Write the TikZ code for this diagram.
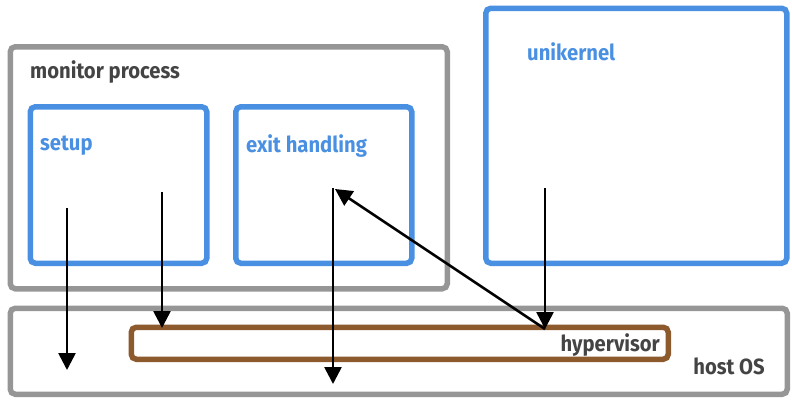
\documentclass[tikz,border=0pt]{standalone}
\usepackage{fontspec}
\setmainfont{Fira Sans}[FakeStretch=0.92]
\usetikzlibrary{arrows.meta}
\definecolor{boxgray}{RGB}{150,150,150}
\definecolor{boxblue}{RGB}{74,144,226}
\definecolor{boxbrown}{RGB}{140,90,45}
\definecolor{textgray}{RGB}{68,68,68}

\begin{document}
\begin{tikzpicture}[x=1pt,y=-1pt,
  box/.style={draw, line width=5.5pt, rounded corners=5pt, inner sep=0pt, anchor=north west},
  graybox/.style={box, draw=boxgray},
  bluebox/.style={box, draw=boxblue},
  brownbox/.style={box, draw=boxbrown},
  lbl/.style={font=\fontsize{22}{22}\selectfont\bfseries, inner sep=0pt},
  flow/.style={-{Triangle[length=17pt,width=17pt]}, line width=2.6pt}]
   \useasboundingbox (0,0) rectangle (792,400);
   \node[graybox, minimum width=437, minimum height=242] (monitor) at (7.5,44) {};
   \node[bluebox, minimum width=176.5, minimum height=156.5] (setup) at (27.5,104) {};
   \node[bluebox, minimum width=176, minimum height=156.5] (exit) at (233,104) {};
   \node[bluebox, minimum width=301, minimum height=255] (unikernel) at (483,5.5) {};
   \node[graybox, minimum width=777, minimum height=86] (host) at (7.5,305.5) {};
   \node[brownbox, minimum width=537, minimum height=32] (hypervisor) at (128.5,324.5) {};
   \node[lbl, text=textgray, anchor=west] (monitorlbl) at (30,72) {monitor process};
   \node[lbl, text=boxblue, anchor=west] (setuplbl) at (40,146) {setup};
   \node[lbl, text=boxblue, anchor=west] (exitlbl) at (246,146) {exit handling};
   \node[lbl, text=boxblue, anchor=west] (unikernellbl) at (527,52) {unikernel};
   \node[lbl, text=textgray, anchor=east] (hypervisorlbl) at (660,345) {hypervisor};
   \node[lbl, text=textgray, anchor=east] (hostlbl) at (765,366) {host OS};
   % arrow ends
   \coordinate (s1) at (67,208);
   \coordinate (s1end) at (67,370);
   \coordinate (s2) at (162,192);
   \coordinate (s2end) at (162,328);
   \coordinate (e1) at (333,188);
   \coordinate (e1end) at (333,384);
   \coordinate (etip) at (335,189);
   \coordinate (u1) at (545,188);
   \coordinate (hv) at (545,329);
   \draw[flow] (s1) -- (s1end);
   \draw[flow] (s2) -- (s2end);
   \draw[flow] (e1) -- (e1end);
   \draw[flow] (u1) -- (hv);
   \draw[flow] (hv) -- (etip);
\end{tikzpicture}
\end{document}
